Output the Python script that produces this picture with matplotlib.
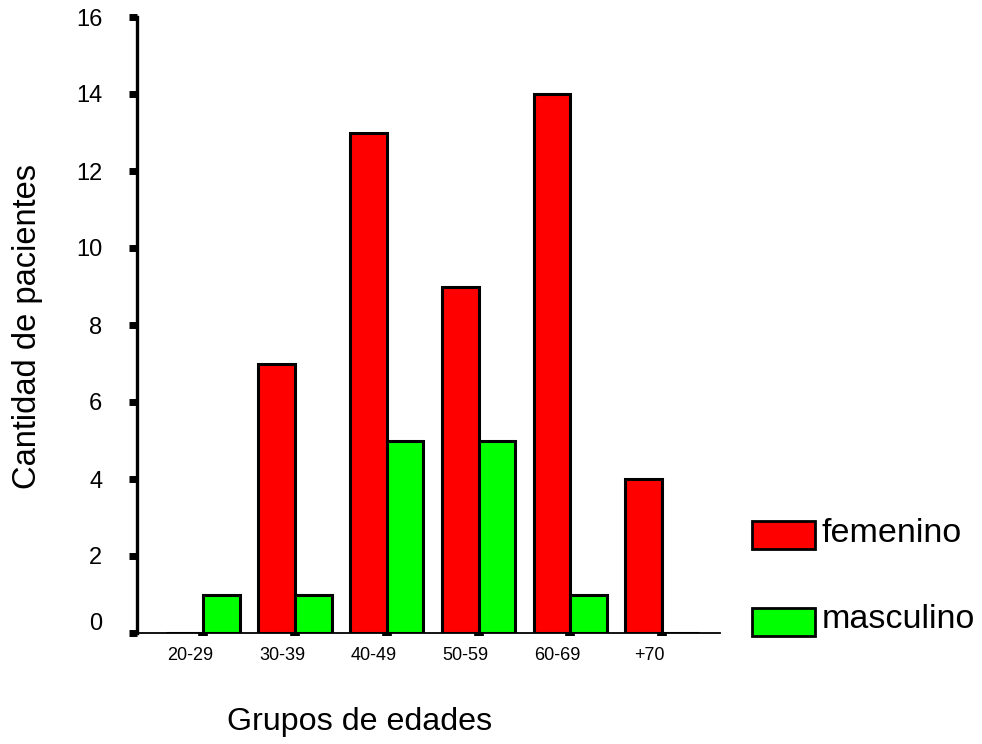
import numpy as np
import matplotlib
matplotlib.use("Agg")
import matplotlib.pyplot as plt
from matplotlib.patches import Rectangle
from matplotlib.transforms import ScaledTranslation

plt.rcParams["font.family"] = ["Liberation Sans", "DejaVu Sans"]

groups = ["20-29", "30-39", "40-49", "50-59", "60-69", "+70"]
femenino = [0, 7, 13, 9, 14, 4]
masculino = [1, 1, 5, 5, 1, 0]
series_names = ["femenino", "masculino"]
series_colors = ["#ff0000", "#00ff00"]
y_ticks = [0, 2, 4, 6, 8, 10, 12, 14, 16]

fig = plt.figure(figsize=(9.82, 7.44), dpi=100)
ax = fig.add_axes([137 / 982, 1 - 633 / 744, (720 - 137) / 982, (633 - 17) / 744])

x = np.arange(len(groups))
w = 0.4
ax.bar(x - w / 2, femenino, w, color=series_colors[0], edgecolor="black", linewidth=2.2)
ax.bar(x + w / 2, masculino, w, color=series_colors[1], edgecolor="black", linewidth=2.2)

ax.set_xlim(-0.72, 5.63)
ax.set_ylim(0, 16)
ax.set_yticks(y_ticks)
ax.set_xticks(x)
ax.set_xticklabels(groups)
ax.tick_params(axis="y", direction="out", length=6, width=5, labelsize=17, pad=19)
ax.tick_params(axis="x", direction="out", length=2, width=7, labelsize=13, pad=8)

# shift x labels a bit to the left, like the original
shift = ScaledTranslation(-13 / 100, 0, fig.dpi_scale_trans)
for lab in ax.get_xticklabels():
    lab.set_transform(lab.get_transform() + shift)
# the "0" label sits a little above its tick
t0 = ax.yaxis.get_major_ticks()[0].label1
t0.set_transform(t0.get_transform() + ScaledTranslation(0, 11 / 100, fig.dpi_scale_trans))

for s in ["top", "right"]:
    ax.spines[s].set_visible(False)
ax.spines["left"].set_linewidth(2.4)
ax.spines["bottom"].set_linewidth(1.3)

fig.text(28 / 982, 1 - 327 / 744, "Cantidad de pacientes", rotation=90,
         ha="center", va="center", fontsize=23.5)
fig.text(360 / 982, 1 - 722 / 744, "Grupos de edades",
         ha="center", va="center", fontsize=23.2)

# legend drawn by hand
legend_y = [535, 622]
for name, col, yc in zip(series_names, series_colors, legend_y):
    fig.add_artist(Rectangle((752 / 982, 1 - (yc + 14) / 744), 63 / 982, 28 / 744,
                             transform=fig.transFigure, facecolor=col,
                             edgecolor="black", linewidth=2))
    fig.text(822 / 982, 1 - (yc - 2) / 744, name, ha="left", va="center", fontsize=24.5)

fig.savefig("out.png", dpi=100)
